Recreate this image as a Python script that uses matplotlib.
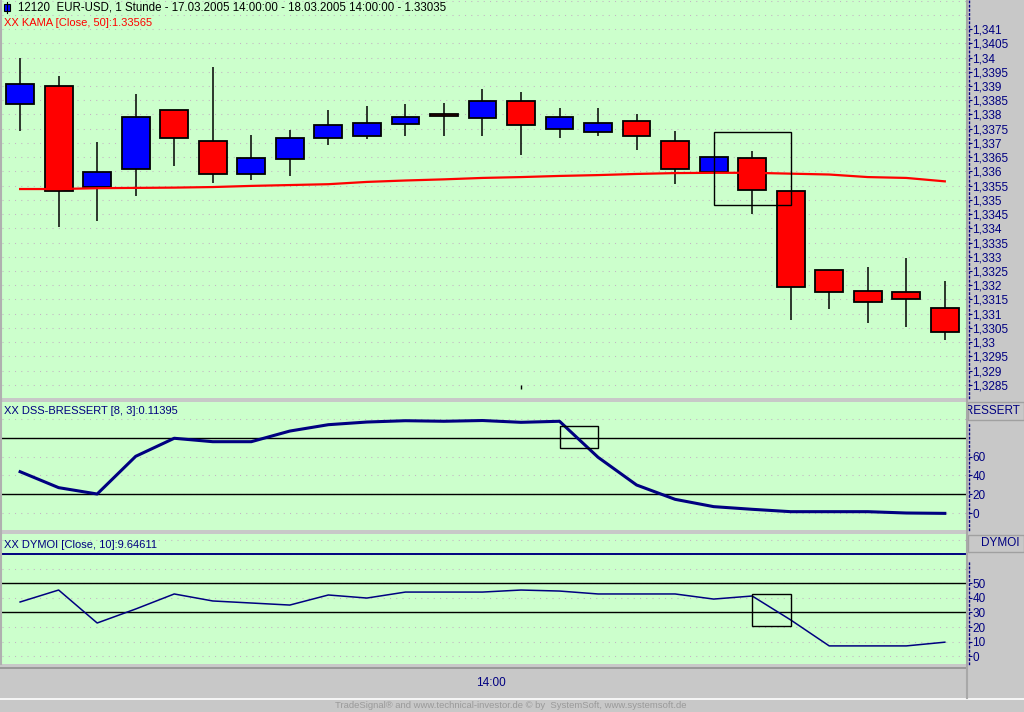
import matplotlib
matplotlib.use('Agg')
import matplotlib.pyplot as plt
from matplotlib.patches import Rectangle
from matplotlib.lines import Line2D

plt.rcParams['font.family'] = ['Liberation Sans', 'DejaVu Sans']

W, H = 1024, 712
GREEN = '#CCFFCC'
GRAY = '#C8C8C8'
NAVY = '#000080'
DOTS = '#C4B4C4'

# EUR-USD hourly, 17.03.2005 14:00 - 18.03.2005 14:00
opens = [1.33836, 1.33899, 1.33544, 1.33607, 1.33815, 1.33706, 1.33590, 1.33643, 1.33716,
         1.33725, 1.33768, 1.33802, 1.33789, 1.33847, 1.33750, 1.33739, 1.33777, 1.33706,
         1.33599, 1.33646, 1.33530, 1.33253, 1.33179, 1.33176, 1.33119]
highs = [1.33998, 1.33935, 1.33703, 1.33872, 1.33816, 1.33967, 1.33727, 1.33745, 1.33816,
         1.33830, 1.33837, 1.33840, 1.33889, 1.33879, 1.33823, 1.33823, 1.33802, 1.33742,
         1.33651, 1.33672, 1.33530, 1.33253, 1.33264, 1.33296, 1.33214]
lows = [1.33743, 1.33406, 1.33427, 1.33515, 1.33620, 1.33560, 1.33571, 1.33585, 1.33694,
        1.33714, 1.33725, 1.33725, 1.33725, 1.33659, 1.33718, 1.33725, 1.33676, 1.33557,
        1.33599, 1.33452, 1.33079, 1.33118, 1.33069, 1.33055, 1.33006]
closes = [1.33906, 1.33530, 1.33597, 1.33790, 1.33716, 1.33590, 1.33646, 1.33716, 1.33762,
          1.33770, 1.33791, 1.33794, 1.33847, 1.33764, 1.33791, 1.33770, 1.33725, 1.33607,
          1.33651, 1.33536, 1.33193, 1.33178, 1.33140, 1.33151, 1.33035]
kama = [1.33538, 1.33538, 1.33541, 1.33542, 1.33543, 1.33545, 1.33549, 1.33552, 1.33555,
        1.33563, 1.33568, 1.33572, 1.33577, 1.33580, 1.33584, 1.33587, 1.33591, 1.33594,
        1.33595, 1.33595, 1.33592, 1.33589, 1.33580, 1.33577, 1.33565]
dss = [44.0, 27.2, 20.5, 60.2, 79.2, 75.6, 75.6, 86.8, 93.5, 96.3, 97.7, 97.1, 97.9,
       96.0, 97.1, 59.2, 30.0, 14.9, 7.2, 4.4, 1.9, 1.9, 1.9, 0.5, 0.11395]
dymoi = [37.2, 45.4, 22.8, 32.4, 42.7, 37.9, 36.5, 35.1, 42.0, 39.9, 44.0, 44.0, 44.0,
         45.4, 44.7, 42.7, 42.7, 42.7, 39.2, 41.3, 24.9, 7.1, 7.1, 7.1, 9.64611]

price_ticks = [1.341, 1.3405, 1.34, 1.3395, 1.339, 1.3385, 1.338, 1.3375, 1.337, 1.3365,
               1.336, 1.3355, 1.335, 1.3345, 1.334, 1.3335, 1.333, 1.3325, 1.332, 1.3315,
               1.331, 1.3305, 1.33, 1.3295, 1.329, 1.3285]
dss_ticks = [0, 20, 40, 60]
dss_grid = [0, 20, 40, 60, 80, 100]
dss_levels = [20, 80]
dymoi_ticks = [0, 10, 20, 30, 40, 50]
dymoi_grid = [0, 10, 20, 30, 40, 50, 60, 70, 80]
dymoi_levels = [30, 50]
dymoi_top = 70

# marker boxes: (x0, x1, y0, y1)
price_box = (18, 20, 1.33482, 1.33738)
dss_box = (14, 15, 68.9, 92.1)
dymoi_box = (19, 20, 20.8, 42.7)

time_label = '14:00'
time_pos = 12.22

XLIM = (-0.47, 24.55)

fig = plt.figure(figsize=(W / 100, H / 100), dpi=100, facecolor=GRAY)


def px_axes(x0, y0, x1, y1):
    return fig.add_axes([x0 / W, 1 - y1 / H, (x1 - x0) / W, (y1 - y0) / H])


def style_panel(ax, ylim, ticks, labels, grid, spine_top=None):
    ax.set_facecolor(GREEN)
    ax.set_xlim(*XLIM)
    ax.set_ylim(*ylim)
    for s in ['top', 'left', 'bottom']:
        ax.spines[s].set_visible(False)
    sp = ax.spines['right']
    sp.set_position(('outward', 2))
    sp.set_linestyle((0, (1, 2)))
    sp.set_color(NAVY)
    sp.set_linewidth(1)
    if spine_top is not None:
        sp.set_bounds(ylim[0], spine_top)
    ax.yaxis.tick_right()
    ax.set_yticks(ticks, labels)
    ax.tick_params(axis='y', length=2.2, width=0.8, color=NAVY, labelcolor=NAVY,
                   labelsize=8.5, pad=0.5)
    ax.set_xticks([])
    for g in grid:
        ax.axhline(g, color=DOTS, lw=0.75, ls=(0, (1, 5)), zorder=0)


# ---- price panel
ax = px_axes(2, 0, 966, 398)
plabels = [f'{p:g}'.replace('.', ',') for p in price_ticks]
style_panel(ax, (1.32804, 1.34202), price_ticks, plabels, price_ticks + [1.3415, 1.342])

for i in range(len(opens)):
    o, h, l, c = opens[i], highs[i], lows[i], closes[i]
    col = '#0000FF' if c >= o else '#FF0000'
    ax.vlines(i, l, h, color='black', lw=1.1, zorder=2)
    ax.add_patch(Rectangle((i - 0.36, min(o, c)), 0.72, abs(c - o), facecolor=col,
                           edgecolor='black', lw=1.3, zorder=3))
ax.plot(range(len(kama)), kama, color='#FF0000', lw=1.6, zorder=4)
x0, x1, y0, y1 = price_box
ax.add_patch(Rectangle((x0, y0), x1 - x0, y1 - y0, fill=False, ec='black', lw=1, zorder=5))
ax.vlines(13, 1.32835, 1.3285, color='black', lw=1)

# ---- DSS panel
ax2 = px_axes(2, 402, 966, 530)
style_panel(ax2, (-17.4, 117.4), dss_ticks, [str(t) for t in dss_ticks], dss_grid,
            spine_top=94)
for lv in dss_levels:
    ax2.axhline(lv, color='black', lw=1, zorder=1)
ax2.plot(range(len(dss)), dss, color=NAVY, lw=2.2, zorder=3)
x0, x1, y0, y1 = dss_box
ax2.add_patch(Rectangle((x0, y0), x1 - x0, y1 - y0, fill=False, ec='black', lw=1, zorder=5))

# ---- DYMOI panel
ax3 = px_axes(2, 534, 966, 664)
style_panel(ax3, (-5.3, 83.8), dymoi_ticks, [str(t) for t in dymoi_ticks], dymoi_grid,
            spine_top=66)
for lv in dymoi_levels:
    ax3.axhline(lv, color='black', lw=1, zorder=1)
ax3.axhline(dymoi_top, color=NAVY, lw=1.4, zorder=1)
ax3.plot(range(len(dymoi)), dymoi, color=NAVY, lw=1.1, zorder=3)
x0, x1, y0, y1 = dymoi_box
ax3.add_patch(Rectangle((x0, y0), x1 - x0, y1 - y0, fill=False, ec='black', lw=1, zorder=5))

# ---- time axis
ax4 = px_axes(0, 668, 966, 698)
ax4.set_facecolor(GRAY)
ax4.set_xlim(XLIM[0] - 2 / 38.54, XLIM[1])
ax4.set_ylim(0, 1)
ax4.set_xticks([])
ax4.set_yticks([])
for s in ax4.spines.values():
    s.set_visible(False)
ax4.text(time_pos, 0.5, time_label, color=NAVY, fontsize=8.5, ha='center', va='center')


def fy(y):
    return 1 - y / H


fig.add_artist(Line2D([0, 966 / W], [fy(667.5), fy(667.5)], color='#909090', lw=1.2))
fig.add_artist(Line2D([0, 1], [fy(698.5), fy(698.5)], color='white', lw=1.2))
fig.add_artist(Line2D([967 / W, 967 / W], [fy(0), fy(698)], color='#A8A8A8', lw=1.5))
fig.add_artist(Line2D([1 / W, 1 / W], [fy(0), fy(664)], color='#B0B0B0', lw=1.5))

# header boxes on the right scale
for (top, bot, name) in [(402, 420, 'DSS-BRESSERT'), (535, 552, 'DYMOI')]:
    box = Rectangle((968 / W, fy(bot)), 56 / W, (bot - top) / H, transform=fig.transFigure,
                    facecolor=GRAY, edgecolor='#A0A0A0', lw=1)
    fig.add_artist(box)
    t = fig.text(1020 / W, fy((top + bot) / 2), name, color=NAVY, fontsize=8.5,
                 ha='right', va='center')
    t.set_clip_path(box)

# chart headers
fig.add_artist(Line2D([7 / W, 7 / W], [fy(1.5), fy(13)], color='black', lw=0.8))
fig.add_artist(Rectangle((4 / W, fy(11)), 6 / W, 7 / H, transform=fig.transFigure,
                         facecolor='#0000FF', edgecolor='black', lw=0.8))
fig.text(18 / W, fy(8), '12120  EUR-USD, 1 Stunde - 17.03.2005 14:00:00 - '
         '18.03.2005 14:00:00 - 1.33035', color='black', fontsize=8.3, va='center')
fig.text(4 / W, fy(22.5), 'XX KAMA [Close, 50]:1.33565', color='#FF0000', fontsize=8,
         va='center')
fig.text(4 / W, fy(410.5), 'XX DSS-BRESSERT [8, 3]:0.11395', color=NAVY, fontsize=8,
         va='center')
fig.text(4 / W, fy(545), 'XX DYMOI [Close, 10]:9.64611', color=NAVY, fontsize=8,
         va='center')
fig.text(511 / W, fy(705.5), 'TradeSignal\u00ae and www.technical-investor.de \u00a9 by  '
         'SystemSoft, www.systemsoft.de', color='#9A9A9A', fontsize=6.8, ha='center',
         va='center')

fig.savefig('out.png', dpi=100, facecolor=GRAY)
